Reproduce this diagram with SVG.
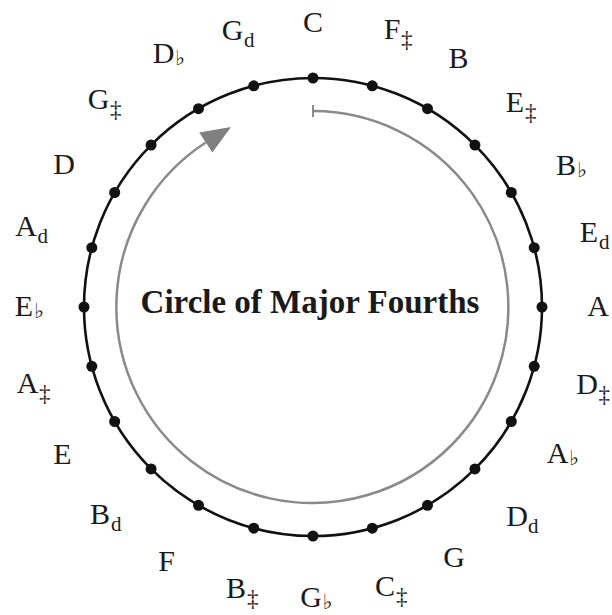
<svg xmlns="http://www.w3.org/2000/svg" width="612" height="615" viewBox="0 0 612 615">
<style>
.l{font-family:"Liberation Serif","Times New Roman",serif;font-size:30px;fill:#1a1a1a;text-anchor:middle}
.s{font-family:"Liberation Serif","Times New Roman",serif;font-size:23px;fill:#1a1a1a}
.h{font-family:"Liberation Serif","Times New Roman",serif;font-size:21px;fill:#1a1a1a}
.f{font-family:"DejaVu Sans","Noto Sans",sans-serif;font-size:21px;fill:#1a1a1a}
.d{fill:#111}
.t{font-family:"Liberation Serif","Times New Roman",serif;font-size:33px;font-weight:bold;fill:#1a1a1a;text-anchor:middle}
</style>
<rect width="612" height="615" fill="#fff"/>
<g id="connectors">
<circle cx="313" cy="307" r="229" fill="none" stroke="#111" stroke-width="2.6"/>
<path d="M313 111 A196 196 0 1 1 205.8 142.5" fill="none" stroke="#8a8a8a" stroke-width="2.5"/>
<polygon points="231,127 199.2,132.4 212.4,152.6" fill="#808080"/>
<line x1="313" y1="105" x2="313" y2="117" stroke="#8a8a8a" stroke-width="2"/>
</g>
<g id="n0"><circle class="d" cx="313" cy="78" r="5.5"/><text class="l" x="313" y="32">C</text></g>
<g id="n1"><circle class="d" cx="372.27" cy="85.81" r="5.5"/><text class="l" x="392" y="39">F</text><text class="s" x="401" y="47">‡</text></g>
<g id="n2"><circle class="d" cx="427.5" cy="108.69" r="5.5"/><text class="l" x="458.5" y="68">B</text></g>
<g id="n3"><circle class="d" cx="474.93" cy="145.07" r="5.5"/><text class="l" x="515" y="112">E</text><text class="s" x="525" y="120">‡</text></g>
<g id="n4"><circle class="d" cx="511.31" cy="192.5" r="5.5"/><text class="l" x="566" y="175">B</text><text class="f" x="577" y="177">♭</text></g>
<g id="n5"><circle class="d" cx="534.19" cy="247.73" r="5.5"/><text class="l" x="589" y="242">E</text><text class="h" x="599" y="249">d</text></g>
<g id="n6"><circle class="d" cx="542" cy="307" r="5.5"/><text class="l" x="598" y="316">A</text></g>
<g id="n7"><circle class="d" cx="534.19" cy="366.27" r="5.5"/><text class="l" x="587" y="394">D</text><text class="s" x="598.5" y="402">‡</text></g>
<g id="n8"><circle class="d" cx="511.31" cy="421.5" r="5.5"/><text class="l" x="557.5" y="463">A</text><text class="f" x="569" y="465">♭</text></g>
<g id="n9"><circle class="d" cx="474.93" cy="468.93" r="5.5"/><text class="l" x="517" y="526">D</text><text class="h" x="528" y="533">d</text></g>
<g id="n10"><circle class="d" cx="427.5" cy="505.31" r="5.5"/><text class="l" x="454" y="567">G</text></g>
<g id="n11"><circle class="d" cx="372.27" cy="528.19" r="5.5"/><text class="l" x="385" y="596">C</text><text class="s" x="396" y="604">‡</text></g>
<g id="n12"><circle class="d" cx="313" cy="536" r="5.5"/><text class="l" x="311" y="607">G</text><text class="f" x="322.5" y="609">♭</text></g>
<g id="n13"><circle class="d" cx="253.73" cy="528.19" r="5.5"/><text class="l" x="236" y="598">B</text><text class="s" x="247" y="606">‡</text></g>
<g id="n14"><circle class="d" cx="198.5" cy="505.31" r="5.5"/><text class="l" x="166.5" y="571">F</text></g>
<g id="n15"><circle class="d" cx="151.07" cy="468.93" r="5.5"/><text class="l" x="100" y="524">B</text><text class="h" x="111" y="531">d</text></g>
<g id="n16"><circle class="d" cx="114.69" cy="421.5" r="5.5"/><text class="l" x="62.5" y="463.5">E</text></g>
<g id="n17"><circle class="d" cx="91.81" cy="366.27" r="5.5"/><text class="l" x="27.5" y="392.5">A</text><text class="s" x="39" y="400.5">‡</text></g>
<g id="n18"><circle class="d" cx="84" cy="307" r="5.5"/><text class="l" x="24" y="316">E</text><text class="f" x="34" y="318">♭</text></g>
<g id="n19"><circle class="d" cx="91.81" cy="247.73" r="5.5"/><text class="l" x="26" y="236">A</text><text class="h" x="37.5" y="243">d</text></g>
<g id="n20"><circle class="d" cx="114.69" cy="192.5" r="5.5"/><text class="l" x="64" y="173.5">D</text></g>
<g id="n21"><circle class="d" cx="151.07" cy="145.07" r="5.5"/><text class="l" x="98.5" y="108.5">G</text><text class="s" x="110" y="116.5">‡</text></g>
<g id="n22"><circle class="d" cx="198.5" cy="108.69" r="5.5"/><text class="l" x="163.5" y="63">D</text><text class="f" x="175" y="65">♭</text></g>
<g id="n23"><circle class="d" cx="253.73" cy="85.81" r="5.5"/><text class="l" x="232.5" y="39.5">G</text><text class="h" x="244" y="46.5">d</text></g>
<g id="title"><text class="t" x="310" y="313">Circle of Major Fourths</text></g>
</svg>
